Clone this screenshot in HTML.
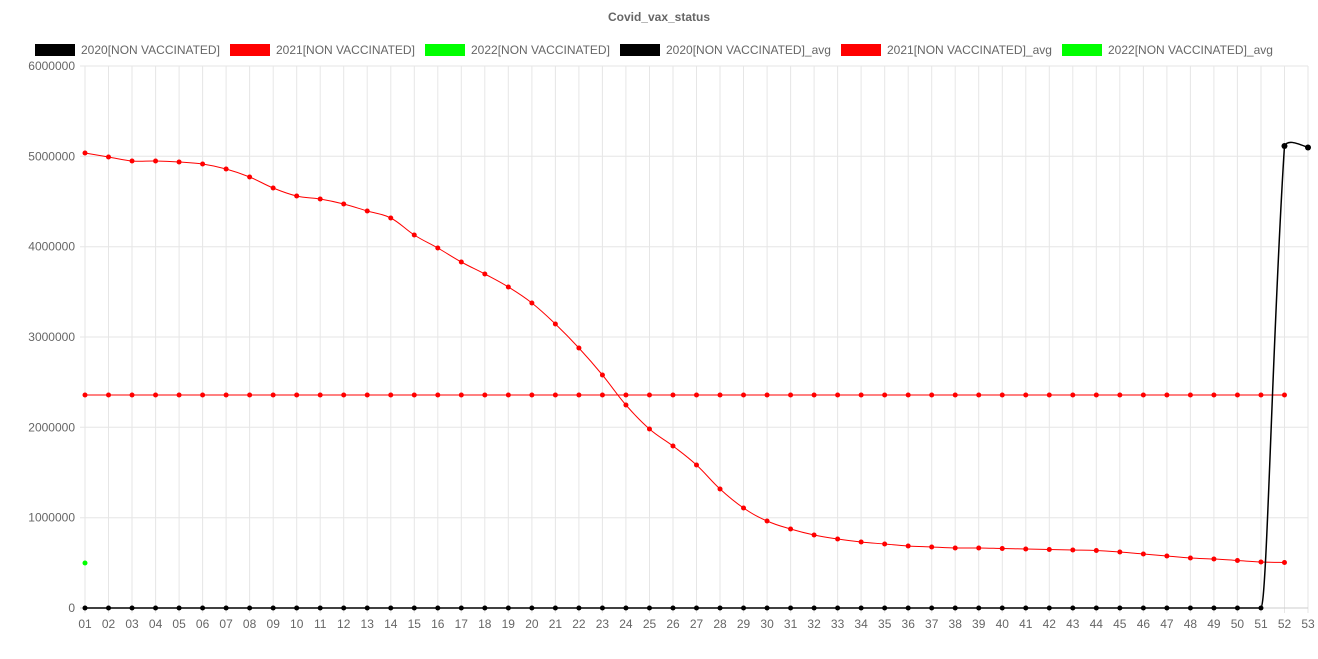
<!DOCTYPE html>
<html><head><meta charset="utf-8"><style>
body{margin:0;background:#fff;}
svg{display:block;font-family:"Liberation Sans",sans-serif;}
</style></head><body>
<svg id="s" width="1318" height="659" xmlns="http://www.w3.org/2000/svg">
<text x="659" y="21" text-anchor="middle" font-size="12" font-weight="bold" fill="#666">Covid_vax_status</text>
<g font-size="12" fill="#666">
<rect x="35" y="44" width="40" height="12" fill="#000"/><text x="81" y="54">2020[NON VACCINATED]</text>
<rect x="230" y="44" width="40" height="12" fill="#f00"/><text x="276" y="54">2021[NON VACCINATED]</text>
<rect x="425" y="44" width="40" height="12" fill="#0f0"/><text x="471" y="54">2022[NON VACCINATED]</text>
<rect x="620" y="44" width="40" height="12" fill="#000"/><text x="666" y="54">2020[NON VACCINATED]_avg</text>
<rect x="841" y="44" width="40" height="12" fill="#f00"/><text x="887" y="54">2021[NON VACCINATED]_avg</text>
<rect x="1062" y="44" width="40" height="12" fill="#0f0"/><text x="1108" y="54">2022[NON VACCINATED]_avg</text>
</g>
<g id="g"></g>
</svg>
<script>
var g=document.getElementById('g'),h='';
var X0=85,DX=(1308-85)/52,Y0=608,YS=(608-66)/6;
function X(i){return X0+i*DX;}
for(var i=0;i<53;i++){var x=X(i).toFixed(1);h+='<line x1="'+x+'" y1="66" x2="'+x+'" y2="613" stroke="#e6e6e6" stroke-width="1"/>';
h+='<text x="'+x+'" y="628" text-anchor="middle" font-size="12" fill="#666">'+(i<9?'0':'')+(i+1)+'</text>';}
for(var k=0;k<=6;k++){var y=(Y0-k*YS).toFixed(1);h+='<line x1="80" y1="'+y+'" x2="1308" y2="'+y+'" stroke="'+(k==0?'#ccc':'#e6e6e6')+'"/>';
h+='<text x="75" y="'+(+y+4)+'" text-anchor="end" font-size="12" fill="#666">'+(k*1000000)+'</text>';}
function path(pts,col,w){var d='M'+pts[0][0]+','+pts[0][1],t=0.2;
for(var i=0;i<pts.length-1;i++){var p0=pts[i-1]||pts[i],p1=pts[i],p2=pts[i+1],p3=pts[i+2]||p2;
d+=' C'+(p1[0]+(p2[0]-p0[0])*t)+','+(p1[1]+(p2[1]-p0[1])*t)+' '+(p2[0]-(p3[0]-p1[0])*t)+','+(p2[1]-(p3[1]-p1[1])*t)+' '+p2[0]+','+p2[1];}
return '<path d="'+d+'" fill="none" stroke="'+col+'" stroke-width="'+w+'"/>';}
function dots(pts,col,r){var s='';pts.forEach(function(p){s+='<circle cx="'+p[0]+'" cy="'+p[1]+'" r="'+r+'" fill="'+col+'"/>';});return s;}
var ry=[153,157,161,161,162,164,169,177,188,196,199,204,211,218,235,248,262,274,287,303,324,348,375,405,429,446,465,489,508,521,529,535,539,542,544,546,547,548,548,548.5,549,549.5,550,550.5,552,554,556,558,559,560.5,562,562.5];
var red=ry.map(function(y,i){return [X(i),y];});
var avg=[];for(i=0;i<52;i++)avg.push([X(i),395]);
var blk=[];for(i=0;i<51;i++)blk.push([X(i),608]);
h+=path(avg,'#f00',1)+dots(avg,'#f00',2.5);
h+=path(red,'#f00',1)+dots(red,'#f00',2.5);
var x51=X(50),x52=X(51),x53=X(52);
h+='<path d="M'+X(0)+',608 L'+x51+',608 C'+(x51+6)+',608 '+(x52-12)+',330 '+x52+',146 C'+(x52+3)+',140 '+(x52+10)+',142 '+x53+',147.5" fill="none" stroke="#000" stroke-width="1.5"/>';
h+=dots(blk,'#000',2.5)+dots([[x52,146],[x53,147.5]],'#000',3);
h+='<circle cx="85" cy="563" r="2.5" fill="#0f0"/>';
g.innerHTML=h;
</script>
</body></html>
